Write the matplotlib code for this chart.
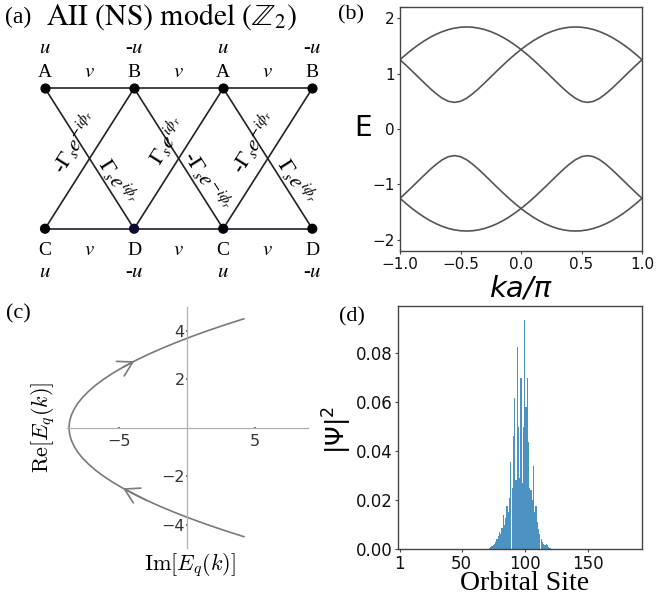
import numpy as np
import matplotlib
matplotlib.use('Agg')
import matplotlib.pyplot as plt

W, H = 656, 599

# ---------------- (a) lattice diagram ----------------
top_sublattice = ['A', 'B', 'A', 'B']
bottom_sublattice = ['C', 'D', 'C', 'D']
onsite_labels = ['$u$', '-$u$', '$u$', '-$u$']
hop_label = '$v$'
cell_x = [0, 1, 2, 3]
gamma_neg = r'$\Gamma_s e^{-i\phi_r}$'
gamma_pos = r'$\Gamma_s e^{i\phi_r}$'

# ---------------- (b) band structure ----------------
k_vals = np.linspace(-1.0, 1.0, 41)
band1 = [1.250, 1.345, 1.434, 1.515, 1.589, 1.654, 1.710, 1.756, 1.793, 1.819,
         1.835, 1.840, 1.835, 1.819, 1.793, 1.756, 1.710, 1.654, 1.589, 1.515,
         1.434, 1.345, 1.250, 1.149, 1.045, 0.938, 0.832, 0.729, 0.634, 0.554,
         0.499, 0.480, 0.499, 0.554, 0.634, 0.729, 0.832, 0.938, 1.045, 1.149,
         1.250]
band2 = [1.250, 1.149, 1.045, 0.938, 0.832, 0.729, 0.634, 0.554, 0.499, 0.480,
         0.499, 0.554, 0.634, 0.729, 0.832, 0.938, 1.045, 1.149, 1.250, 1.345,
         1.434, 1.515, 1.589, 1.654, 1.710, 1.756, 1.793, 1.819, 1.835, 1.840,
         1.835, 1.819, 1.793, 1.756, 1.710, 1.654, 1.589, 1.515, 1.434, 1.345,
         1.250]
band3 = [-v for v in band1]
band4 = [-v for v in band2]

# ---------------- (c) complex spectrum ----------------
re_vals = [-4.5, -4.25, -4.0, -3.75, -3.5, -3.25, -3.0, -2.75, -2.5, -2.25,
           -2.0, -1.75, -1.5, -1.25, -1.0, -0.75, -0.5, -0.25, 0.0,
           0.25, 0.5, 0.75, 1.0, 1.25, 1.5, 1.75, 2.0, 2.25, 2.5,
           2.75, 3.0, 3.25, 3.5, 3.75, 4.0, 4.25, 4.5]
im_vals = [4.16, 2.77, 1.46, 0.23, -0.92, -1.99, -2.99, -3.90, -4.73, -5.49,
           -6.16, -6.76, -7.27, -7.71, -8.07, -8.34, -8.54, -8.66, -8.70,
           -8.66, -8.54, -8.34, -8.07, -7.71, -7.27, -6.76, -6.16, -5.49, -4.73,
           -3.90, -2.99, -1.99, -0.92, 0.23, 1.46, 2.77, 4.16]
c_xticks = [-5, 5]
c_yticks = [-4, -2, 2, 4]

# ---------------- (d) wavefunction ----------------
first_site = 72
psi_vals = [0.0004, 0.0008, 0.0012, 0.0015, 0.0020, 0.0028, 0.0040, 0.0055,
            0.0070, 0.0060, 0.0085, 0.0140, 0.0100, 0.0125, 0.0175, 0.0150,
            0.0210, 0.0355, 0.0250, 0.0460, 0.0616, 0.0280, 0.0824, 0.0500,
            0.0290, 0.0698, 0.0270, 0.0500, 0.0936, 0.0580, 0.0698, 0.0435,
            0.0250, 0.0240, 0.0200, 0.0337, 0.0150, 0.0174, 0.0110, 0.0080,
            0.0060, 0.0040, 0.0030, 0.0020, 0.0015, 0.0022, 0.0018, 0.0008,
            0.0004]
d_xticks = [1, 50, 100, 150]
d_yticks = [0.00, 0.02, 0.04, 0.06, 0.08]

SERIF = 'Liberation Serif'
fig = plt.figure(figsize=(W / 100, H / 100), dpi=100)


def fx(px):
    return px / W


def fy(py):
    return 1 - py / H


# ===== panel (a) =====
ax_a = fig.add_axes([0, 0.5, 0.5, 0.5])
ax_a.set_xlim(-0.505, 3.176)
ax_a.set_ylim(-0.504, 1.629)
ax_a.axis('off')
lc = '#222222'
ax_a.plot(cell_x, [1] * len(cell_x), color=lc, lw=1.2, zorder=1)
ax_a.plot(cell_x, [0] * len(cell_x), color='#1c1c3a', lw=1.2, zorder=1)
for i in range(len(cell_x) - 1):
    ax_a.plot([cell_x[i], cell_x[i + 1]], [1, 0], color=lc, lw=1.2, zorder=1)
    ax_a.plot([cell_x[i], cell_x[i + 1]], [0, 1], color=lc, lw=1.2, zorder=1)
ax_a.scatter(cell_x, [1] * 4, s=40, color='black', zorder=5)
ax_a.scatter(cell_x, [0] * 4, s=40, color=['black', '#0a0a30', 'black', 'black'], zorder=5)
for i, x in enumerate(cell_x):
    ax_a.text(x, 1.083, top_sublattice[i], fontsize=14, family=SERIF,
              ha='center', va='baseline')
    ax_a.text(x, 1.25, onsite_labels[i], fontsize=15, family=SERIF,
              math_fontfamily='stix', ha='center', va='baseline')
    ax_a.text(x, -0.187, bottom_sublattice[i], fontsize=14, family=SERIF,
              ha='center', va='baseline')
    ax_a.text(x, -0.342, onsite_labels[i], fontsize=15, family=SERIF,
              math_fontfamily='stix', ha='center', va='baseline')
for i in range(len(cell_x) - 1):
    xm = (cell_x[i] + cell_x[i + 1]) / 2
    ax_a.text(xm, 1.083, hop_label, fontsize=15, math_fontfamily='stix',
              ha='center', va='baseline')
    ax_a.text(xm, -0.187, hop_label, fontsize=15, math_fontfamily='stix',
              ha='center', va='baseline')
gamma_specs = [(0.34, 0.62, 57.8, '-' + gamma_neg), (0.82, 0.34, -57.8, gamma_pos),
               (1.37, 0.63, 57.8, gamma_pos), (1.82, 0.34, -57.8, '-' + gamma_neg),
               (2.34, 0.62, 57.8, '-' + gamma_neg), (2.82, 0.34, -57.8, gamma_pos)]
for x, y, rot, lab in gamma_specs:
    ax_a.text(x, y, lab, fontsize=15.5, family=SERIF, math_fontfamily='stix',
              rotation=rot, rotation_mode='anchor', ha='center', va='center',
              zorder=3)

fig.text(fx(5), fy(17), '(a)', fontsize=17, family=SERIF, ha='left', va='center')
fig.text(fx(46), fy(17), r'$\mathrm{AII\ (NS)\ model\ (}\mathbb{Z}_2\mathrm{)}$',
         fontsize=21.5, math_fontfamily='stix', ha='left', va='center')

# ===== panel (b) =====
ax_b = fig.add_axes([fx(400), fy(251), fx(242), 244 / H])
for band in (band1, band2, band3, band4):
    ax_b.plot(k_vals, band, color='#555555', lw=1.2)
ax_b.set_xlim(-1.0, 1.0)
ax_b.set_ylim(-2.2, 2.2)
ax_b.set_xticks([-1.0, -0.5, 0.0, 0.5, 1.0])
ax_b.set_yticks([-2, -1, 0, 1, 2])
ax_b.tick_params(labelsize=11, length=2.5, pad=1.5, color='#444444', labelcolor='#111111')
for s in ax_b.spines.values():
    s.set_color('#444444')
    s.set_linewidth(1.0)
fig.text(fx(351), fy(15), '(b)', fontsize=16, family=SERIF, ha='center', va='center')
fig.text(fx(363), fy(128), 'E', fontsize=20, ha='center', va='center')
fig.text(fx(521), fy(288), 'ka/π', fontsize=21, style='italic', ha='center', va='center')

# ===== panel (c) =====
ax_c = fig.add_axes([fx(66.7), fy(548.3), 241.6 / W, 241.6 / H])
ax_c.patch.set_alpha(0)
ax_c.set_xlim(-8.87, 8.9)
ax_c.set_ylim(-4.98, 5.0)
for side in ('top', 'right'):
    ax_c.spines[side].set_visible(False)
for side in ('left', 'bottom'):
    ax_c.spines[side].set_position(('data', 0))
    ax_c.spines[side].set_color('#b0b0b0')
    ax_c.spines[side].set_linewidth(0.9)
ax_c.plot(im_vals, re_vals, color='#7a7a7a', lw=1.2)
ax_c.set_xticks(c_xticks)
ax_c.set_yticks(c_yticks)
ax_c.set_xticklabels([str(t).replace('-', '\u2212') for t in c_xticks])
ax_c.set_yticklabels([str(t).replace('-', '\u2212') for t in c_yticks])
ax_c.tick_params(axis='both', labelsize=11.5, length=1.5, width=1.2, direction='inout',
                 color='#555555', labelcolor='#333333')
ax_c.tick_params(axis='x', pad=4)
ax_c.tick_params(axis='y', pad=1)
arrow_kw = dict(arrowstyle='->,head_length=0.6,head_width=0.35', color='#7a7a7a',
                lw=1.2, shrinkA=0, shrinkB=0, mutation_scale=17)
iu0, iu1 = re_vals.index(2.5), re_vals.index(2.75)
ax_c.annotate('', xy=(im_vals[iu1], re_vals[iu1]), xytext=(im_vals[iu0], re_vals[iu0]),
              arrowprops=arrow_kw)
il0, il1 = re_vals.index(-3.0), re_vals.index(-2.5)
ax_c.annotate('', xy=(im_vals[il1], re_vals[il1]), xytext=(im_vals[il0], re_vals[il0]),
              arrowprops=arrow_kw)
fig.text(fx(18), fy(314), '(c)', fontsize=16, family=SERIF, ha='center', va='center')
fig.text(fx(43), fy(427), r'$\mathrm{Re}[E_q(k)]$', fontsize=16, math_fontfamily='cm',
         rotation=90, ha='center', va='center')
fig.text(fx(190), fy(565), r'$\mathrm{Im}[E_q(k)]$', fontsize=16, math_fontfamily='cm',
         ha='center', va='center')

# ===== panel (d) =====
ax_d = fig.add_axes([fx(398), fy(549), fx(244), 243 / H])
sites = np.arange(first_site, first_site + len(psi_vals))
ax_d.bar(sites, psi_vals, width=0.95, color='#1f77b4', alpha=0.8)
ax_d.set_xlim(-0.5, 193)
ax_d.set_ylim(0, 0.0992)
ax_d.set_xticks(d_xticks)
ax_d.set_yticks(d_yticks)
ax_d.set_yticklabels([f'{t:.2f}' for t in d_yticks])
ax_d.tick_params(labelsize=12, length=2.5, pad=1.5, color='#444444', labelcolor='#111111')
for s in ax_d.spines.values():
    s.set_color('#444444')
    s.set_linewidth(1.0)
fig.text(fx(352), fy(317), '(d)', fontsize=16, family=SERIF, ha='center', va='center')
fig.text(fx(337), fy(430), r'$|\Psi|^2$', fontsize=18, math_fontfamily='dejavusans',
         rotation=90, ha='center', va='center')
fig.text(fx(525), fy(584), 'Orbital Site', fontsize=20, family=SERIF,
         ha='center', va='center')

fig.savefig('out.png', dpi=100)
